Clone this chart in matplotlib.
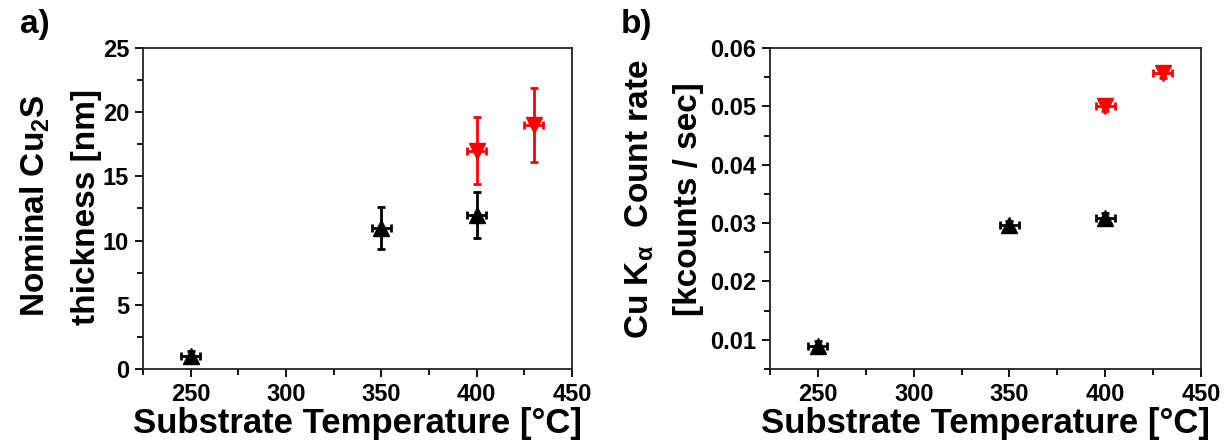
import matplotlib
matplotlib.use('Agg')
import matplotlib.pyplot as plt
from matplotlib.ticker import MultipleLocator

# data
temp_black = [250, 350, 400]
temp_red = [400, 430]
thick_black = [1.0, 11.0, 12.0]
thick_black_err = [0.4, 1.65, 1.8]
thick_red = [17.0, 19.0]
thick_red_err = [2.6, 2.9]
rate_black = [0.0090, 0.0296, 0.0309]
rate_black_err = [0.0008, 0.0008, 0.0008]
rate_red = [0.0500, 0.0557]
rate_red_err = [0.0008, 0.0008]
temp_err = 5

plt.rcParams['font.family'] = ['Liberation Sans', 'DejaVu Sans']
plt.rcParams['font.weight'] = 'bold'
plt.rcParams['mathtext.fontset'] = 'custom'
plt.rcParams['mathtext.rm'] = 'Liberation Sans:bold'
plt.rcParams['mathtext.bf'] = 'Liberation Sans:bold'
plt.rcParams['mathtext.it'] = 'Liberation Sans:bold'

fig = plt.figure(figsize=(12.24, 4.41), dpi=100)
ax1 = fig.add_axes([0.1168, 0.1633, 0.3505, 0.7279])
ax2 = fig.add_axes([0.6291, 0.1633, 0.3521, 0.7279])

def errpoints(ax, x, y, yerr, color, marker):
    ax.errorbar(x, y, yerr=yerr, xerr=temp_err, fmt=marker, color=color,
                ms=11, elinewidth=2, capsize=3, capthick=2, ls='none')

errpoints(ax1, temp_black, thick_black, thick_black_err, 'black', '^')
errpoints(ax1, temp_red, thick_red, thick_red_err, '#ff0000', 'v')
errpoints(ax2, temp_black, rate_black, rate_black_err, 'black', '^')
errpoints(ax2, temp_red, rate_red, rate_red_err, '#ff0000', 'v')

ax1.set_xlim(225, 450)
ax1.set_ylim(0, 25)
ax1.yaxis.set_major_locator(MultipleLocator(5))
ax1.yaxis.set_minor_locator(MultipleLocator(2.5))
ax2.set_xlim(225, 450)
ax2.set_ylim(0.005, 0.06)
ax2.yaxis.set_major_locator(MultipleLocator(0.01))
ax2.yaxis.set_minor_locator(MultipleLocator(0.005))
ax2.yaxis.set_major_formatter(plt.FuncFormatter(lambda v, p: f'{v:.2f}'))

for ax in (ax1, ax2):
    ax.xaxis.set_major_locator(MultipleLocator(50))
    ax.xaxis.set_minor_locator(MultipleLocator(25))
    ax.tick_params(which='major', direction='out', length=6, width=1.3,
                   labelsize=17, pad=4)
    ax.tick_params(which='minor', direction='out', length=4, width=1.3)
    for s in ax.spines.values():
        s.set_linewidth(1.3)
        s.set_color('#222222')
    ax.set_xlabel('Substrate Temperature [°C]', fontsize=25, fontweight='bold',
                  labelpad=1)

# two-line y labels placed by hand
lab = dict(rotation=90, ha='center', va='center', fontsize=24, fontweight='bold')
fig.text(35 / 1224, 1 - 206 / 441, r'Nominal Cu$_{2}$S', **lab)
fig.text(86 / 1224, 1 - 207 / 441, 'thickness [nm]', **lab)
fig.text(640 / 1224, 1 - 199 / 441, r'Cu K$_{\alpha}$  Count rate', **lab)
fig.text(689 / 1224, 1 - 199 / 441, '[kcounts / sec]', **lab)

fig.text(35 / 1224, 1 - 24 / 441, 'a)', fontsize=24, fontweight='bold',
         ha='center', va='center')
fig.text(636 / 1224, 1 - 24 / 441, 'b)', fontsize=24, fontweight='bold',
         ha='center', va='center')

fig.savefig('out.png', dpi=100)
